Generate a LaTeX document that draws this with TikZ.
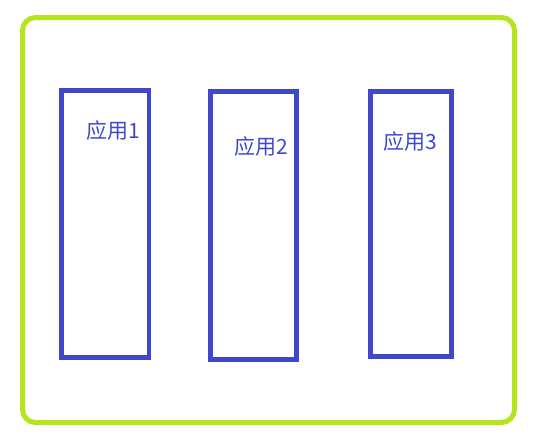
\documentclass[tikz,border=0pt]{standalone}
\usepackage{fontspec}
\newfontfamily\cjkfont{Noto Sans CJK SC}
\definecolor{limeg}{HTML}{B5E61D}
\definecolor{indigo}{HTML}{3F48CC}
\tikzset{
  outerbox/.style={draw=limeg, line width=5pt, rounded corners=13pt, inner sep=0pt, minimum width=492pt, minimum height=405pt},
  appbox/.style={draw=indigo, line width=4.5pt, inner sep=0pt},
  applabel/.style={text=indigo, font=\cjkfont\fontsize{21pt}{25pt}\selectfont, inner sep=0pt}
}
\begin{document}
\begin{tikzpicture}[x=1pt,y=-1pt]
\useasboundingbox (0,0) rectangle (554,440);
\node[outerbox] (outer) at (268.5,220) {};
\node[appbox, minimum width=87.5pt, minimum height=267pt] (b1) at (105.25,224) {};
\node[appbox, minimum width=86pt, minimum height=268pt] (b2) at (253.5,225.5) {};
\node[appbox, minimum width=81pt, minimum height=265pt] (b3) at (411,224) {};
\node[applabel] (t1) at (113.7,130.5) {应用1};
\node[applabel] (t2) at (261,147) {应用2};
\node[applabel] (t3) at (410.7,141.5) {应用3};
\end{tikzpicture}
\end{document}
